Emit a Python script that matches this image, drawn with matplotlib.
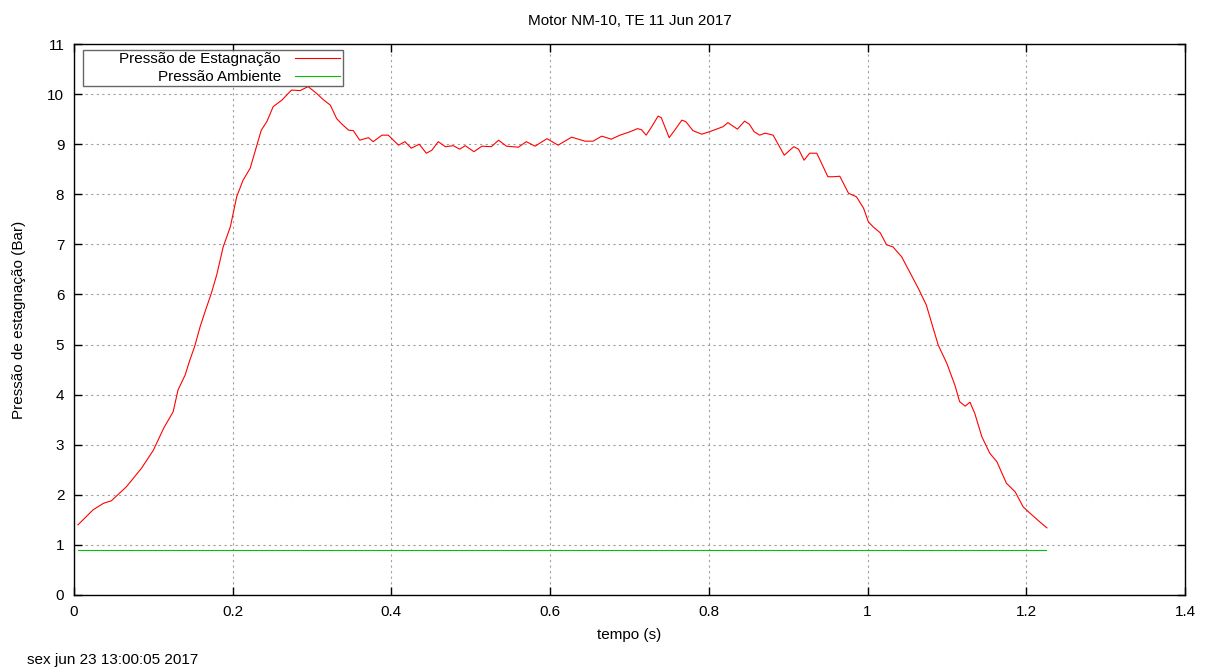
import matplotlib
matplotlib.use('Agg')
import matplotlib.pyplot as plt

plt.rcParams['font.family'] = ['Liberation Sans', 'DejaVu Sans']

# pressao de estagnacao (bar) vs tempo (s)
tempo = [0.005, 0.024, 0.037, 0.047, 0.066, 0.085, 0.100, 0.113, 0.125, 0.131,
         0.140, 0.146, 0.152, 0.159, 0.165, 0.173, 0.180, 0.188, 0.197, 0.205,
         0.213, 0.222, 0.230, 0.236, 0.243, 0.251, 0.262, 0.274, 0.285, 0.295,
         0.306, 0.314, 0.323, 0.331, 0.337, 0.346, 0.352, 0.360, 0.371, 0.377,
         0.388, 0.396, 0.409, 0.417, 0.425, 0.435, 0.444, 0.451, 0.459, 0.468,
         0.478, 0.486, 0.493, 0.504, 0.514, 0.526, 0.535, 0.545, 0.560, 0.570,
         0.581, 0.596, 0.610, 0.627, 0.644, 0.654, 0.665, 0.677, 0.688, 0.701,
         0.710, 0.715, 0.721, 0.728, 0.736, 0.740, 0.750, 0.757, 0.766, 0.771,
         0.780, 0.791, 0.801, 0.818, 0.824, 0.836, 0.845, 0.851, 0.857, 0.864,
         0.871, 0.881, 0.895, 0.907, 0.913, 0.920, 0.927, 0.936, 0.950, 0.957,
         0.965, 0.976, 0.986, 0.995, 1.001, 1.007, 1.016, 1.024, 1.032, 1.043,
         1.053, 1.064, 1.074, 1.081, 1.089, 1.100, 1.110, 1.116, 1.123, 1.129,
         1.135, 1.144, 1.154, 1.163, 1.175, 1.186, 1.196, 1.207, 1.217, 1.226]
p_estag = [1.40, 1.70, 1.83, 1.88, 2.16, 2.53, 2.89, 3.33, 3.66, 4.09,
           4.39, 4.69, 4.96, 5.36, 5.65, 6.02, 6.40, 6.95, 7.35, 7.95,
           8.28, 8.52, 8.95, 9.28, 9.45, 9.75, 9.88, 10.08, 10.07, 10.15,
           10.01, 9.89, 9.78, 9.51, 9.41, 9.28, 9.27, 9.08, 9.13, 9.05,
           9.18, 9.18, 8.98, 9.05, 8.92, 9.00, 8.82, 8.88, 9.05, 8.95,
           8.97, 8.90, 8.97, 8.85, 8.96, 8.95, 9.08, 8.96, 8.94, 9.05,
           8.96, 9.11, 8.98, 9.14, 9.06, 9.06, 9.16, 9.10, 9.18, 9.25,
           9.31, 9.29, 9.18, 9.35, 9.56, 9.53, 9.13, 9.28, 9.48, 9.45,
           9.27, 9.20, 9.25, 9.35, 9.43, 9.30, 9.46, 9.40, 9.25, 9.18,
           9.22, 9.18, 8.78, 8.95, 8.90, 8.68, 8.82, 8.82, 8.35, 8.35,
           8.36, 8.02, 7.95, 7.72, 7.45, 7.35, 7.23, 6.99, 6.95, 6.75,
           6.45, 6.12, 5.79, 5.42, 4.99, 4.62, 4.19, 3.86, 3.77, 3.85,
           3.63, 3.16, 2.83, 2.66, 2.23, 2.06, 1.76, 1.60, 1.46, 1.34]

tempo_amb = [0.005, 1.225]
p_amb = [0.9, 0.9]

xticks = [0, 0.2, 0.4, 0.6, 0.8, 1, 1.2, 1.4]
xticklabels = ['0', '0.2', '0.4', '0.6', '0.8', '1', '1.2', '1.4']
yticks = list(range(0, 12))

fs = 11

fig = plt.figure(figsize=(12.06, 6.70), dpi=100)
ax = fig.add_axes([74 / 1206, 1 - 595 / 670, (1185 - 74) / 1206, (595 - 44) / 670])

# leading spaces give the wide left margin of the gnuplot key box
ax.plot(tempo, p_estag, color='#ff0000', lw=0.8, label='        Pressão de Estagnação')
ax.plot(tempo_amb, p_amb, color='#00c000', lw=0.8, label='Pressão Ambiente')

ax.set_xlim(0, 1.4)
ax.set_ylim(0, 11)
ax.set_xticks(xticks)
ax.set_xticklabels(xticklabels)
ax.set_yticks(yticks)
ax.tick_params(direction='in', top=True, right=True, length=6, width=1,
               labelsize=fs, pad=7)
ax.grid(True, color='#a0a0a0', linestyle=(0, (2, 3)), lw=0.8)
for s in ax.spines.values():
    s.set_linewidth(1)
    s.set_color('black')

ax.set_xlabel('tempo (s)', fontsize=fs, labelpad=7)
ax.set_ylabel('Pressão de estagnação (Bar)', fontsize=fs, labelpad=15)
ax.set_title('Motor NM-10, TE 11 Jun 2017', fontsize=fs, pad=14)

leg = ax.legend(loc='upper left', bbox_to_anchor=(9 / 1111, 1 - 6 / 551),
                markerfirst=False, fancybox=False, fontsize=fs,
                handlelength=3, borderpad=0.15, labelspacing=0.25,
                handletextpad=0.9, borderaxespad=0)
leg.get_frame().set_edgecolor('#404040')
leg.get_frame().set_linewidth(1)

fig.text(27 / 1206, 1 - 660 / 670, 'sex jun 23 13:00:05 2017', fontsize=fs,
         va='center', ha='left')

fig.savefig('out.png', dpi=100)
